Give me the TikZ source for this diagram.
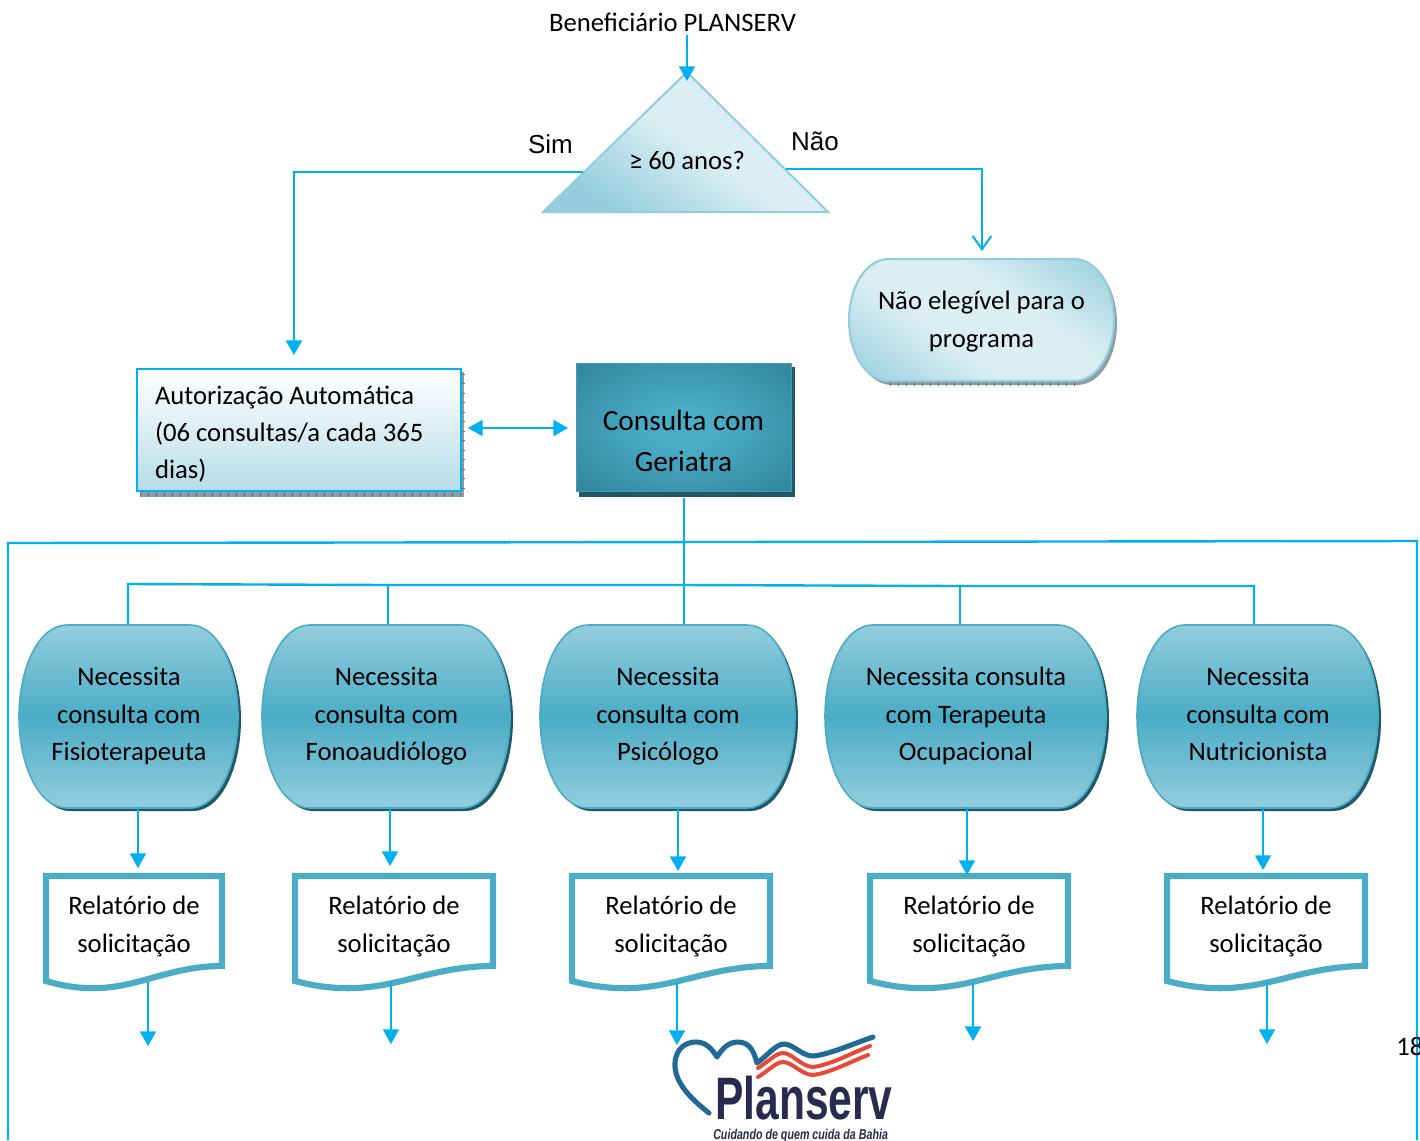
\documentclass[tikz,border=0pt]{standalone}
\usepackage{fontspec}
\usepackage{graphicx}
\setmainfont{Carlito}
\newfontfamily\liberation{Liberation Sans}
\newfontfamily\logofont{Liberation Sans}
\usetikzlibrary{arrows.meta,calc,backgrounds}
\definecolor{linkc}{HTML}{00B0F0}
\definecolor{teal}{HTML}{4BACC6}
\definecolor{tealdark}{HTML}{31849B}
\definecolor{tealshadow}{HTML}{215868}
\definecolor{teallight}{HTML}{93CDDD}
\definecolor{paleblue}{HTML}{DAEEF3}
\definecolor{midblue}{HTML}{B7DDE8}
\definecolor{hatch}{HTML}{8E9DA1}
\definecolor{logoblue}{HTML}{1F6A96}
\definecolor{logored}{HTML}{E8483A}
\definecolor{logoink}{HTML}{2A2A4E}
\pgfdeclareradialshading{gerishade}{\pgfpoint{0bp}{0bp}}{color(0bp)=(teal); color(8bp)=(teal); color(36bp)=(tealdark); color(50bp)=(tealdark)}
\pgfdeclareverticalshading{paleband}{100bp}{color(0bp)=(teallight); color(14bp)=(teallight); color(40bp)=(paleblue); color(60bp)=(paleblue); color(86bp)=(teallight); color(100bp)=(teallight)}
\tikzset{
  body/.style={inner sep=0pt,align=center,font=\fontsize{20}{28.1}\selectfont,text=black},
  link/.style={draw=linkc,line width=1.9pt,-{Triangle[length=11pt,width=12pt]}},
  thinlink/.style={draw=linkc,line width=1.4pt,-{Triangle[length=11pt,width=12pt]}},
  plainlink/.style={draw=linkc,line width=1.8pt},
  openlink/.style={draw=linkc,line width=1.5pt,-{Straight Barb[length=10pt,width=14pt]}},
  bothlink/.style={draw=linkc,line width=1.6pt,{Triangle[length=11pt,width=12pt]}-{Triangle[length=11pt,width=12pt]}},
  docbox/.style={draw=teal,line width=4.6pt,fill=white,miter limit=10},
  hatchline/.style={draw=hatch!70!black,line width=3pt,dash pattern=on .6pt off 5.4pt},
}
% rounded-side outline: x1,y1,x2,y2,side-radius
\newcommand{\roundedsides}[5]{
  (#1+#5,#2) -- (#3-#5,#2)
  .. controls (#3-#5*0.4,#2) and (#3,#2+0.24*#4-0.24*#2) .. (#3,#2*0.5+#4*0.5)
  .. controls (#3,#4-0.24*#4+0.24*#2) and (#3-#5*0.4,#4) .. (#3-#5,#4)
  -- (#1+#5,#4)
  .. controls (#1+#5*0.4,#4) and (#1,#4-0.24*#4+0.24*#2) .. (#1,#2*0.5+#4*0.5)
  .. controls (#1,#2+0.24*#4-0.24*#2) and (#1+#5*0.4,#2) .. (#1+#5,#2) -- cycle
}
% need-shape: name,x1,x2,text
\newcommand{\needshape}[4]{
  \fill[tealshadow] \roundedsides{#2+3}{628}{#3+3}{811}{48};
  \shade[top color=teallight,bottom color=teallight,middle color=teal,draw=teal,line width=1.2pt] \roundedsides{#2}{625}{#3}{808}{48};
  \node[body,minimum width=(#3-#2)*0.75pt,minimum height=137pt] (#1) at ({(#2+#3)/2+0.5},715.5) {\strut#4\strut};
}
% document: name,x1,x2
\newcommand{\docshape}[3]{
  \draw[docbox] (#2+2,876) -- (#3-2,876) -- (#3-2,966)
    .. controls (#2+0.78*#3-0.78*#2,966) and (#2+0.62*#3-0.62*#2,978) .. (#2+0.47*#3-0.47*#2,984)
    .. controls (#2+0.32*#3-0.32*#2,990) and (#2+0.18*#3-0.18*#2,990) .. (#2+2,981) -- cycle;
  \node[body,minimum width=(#3-#2)*0.75pt,minimum height=84pt] (#1) at ({(#2+#3)/2},926) {\strut Relatório de\\solicitação\strut};
}
\begin{document}
\begin{tikzpicture}[x=0.75pt,y=-0.75pt]
\useasboundingbox (0,0) rectangle (1420,1140);

% title and decision
\node[body] (start) at (672.5,22) {Beneficiário PLANSERV};
\shade[bottom color=teallight,top color=paleblue,middle color=paleblue,shading angle=-35,draw=teallight,line width=1.5pt] (687,72) -- (828,212) -- (543,212) -- cycle;
\node[body] (q) at (687,160) {≥ 60 anos?};
\node[inner sep=0pt,font=\liberation\fontsize{19.5}{23}\selectfont] (sim) at (550.5,144) {Sim};
\node[inner sep=0pt,font=\liberation\fontsize{19.5}{23}\selectfont] (nao) at (815,141) {Não};

% not eligible
\fill[hatch] \roundedsides{852}{262}{1117}{385}{40};
\draw[hatchline] (890,384) -- (1078,384);
\shade[shading=paleband,shading angle=-35,draw=teallight,line width=1.6pt] \roundedsides{849}{259}{1114}{381}{40};
\node[body,minimum width=199pt,minimum height=91.5pt] (noelig) at (981.5,321) {\strut Não elegível para o\\programa\strut};

% automatic authorisation
\fill[hatch] (140,372) rectangle (464,497);
\draw[hatchline] (140,495) -- (464,495);
\draw[hatchline,dash pattern=on .6pt off 6.5pt] (462.5,374) -- (462.5,497);
\shade[top color=white,bottom color=midblue,draw=linkc,line width=2pt] (137,369) rectangle (461,491);
\node[body,align=flush left,text width=216pt] (auto) at (299,434) {\strut Autorização Automática\\(06 consultas/a cada 365\\dias)\strut};

% geriatrician
\fill[tealshadow] (579,367) rectangle (795,497);
\shade[shading=gerishade,draw=teal!60!tealdark,line width=.5pt] (576,363) rectangle (791,491);
\node[body,font=\fontsize{22}{30.8}\selectfont,minimum width=161pt,minimum height=83pt] (geri) at (683.5,442.5) {\strut Consulta com\\Geriatra\strut};

% needs
\needshape{n1}{19}{238}{Necessita\\consulta com\\Fisioterapeuta}
\needshape{n2}{262}{510}{Necessita\\consulta com\\Fonoaudiólogo}
\needshape{n3}{540}{795}{Necessita\\consulta com\\Psicólogo}
\needshape{n4}{825}{1106}{Necessita consulta\\com Terapeuta\\Ocupacional}
\needshape{n5}{1137}{1378}{Necessita\\consulta com\\Nutricionista}

% documents
\docshape{d1}{44}{224}
\docshape{d2}{293}{495}
\docshape{d3}{570}{772}
\docshape{d4}{868}{1070}
\docshape{d5}{1165}{1367}

% named free ends
\coordinate (leftcorner) at (294,172);
\coordinate (autotop) at (294,355);
\coordinate (rightcorner) at (982,169);
\coordinate (noeligtop) at (982,251);
\coordinate (bothL) at (468,428);
\coordinate (bothR) at (568,428);
\coordinate (frameTL) at (8,543);
\coordinate (frameTR) at (1417,541);
\coordinate (frameBL) at (8,1140);
\coordinate (frameBR) at (1417,1140);
\coordinate (busL) at (128,584);
\coordinate (busR) at (1254,586);
\coordinate (tap2) at (388,585);
\coordinate (tap3) at (684,585);
\coordinate (tap4) at (960,586);
\coordinate (in1) at (138,868);
\coordinate (in2) at (390,866);
\coordinate (in3) at (678,871);
\coordinate (in4) at (967,875);
\coordinate (in5) at (1263,870);
\coordinate (out1) at (148,1046);
\coordinate (out2) at (391,1044);
\coordinate (out3) at (677,1045);
\coordinate (out4) at (973,1041);
\coordinate (out5) at (1267,1044);

% connectors
\draw[thinlink] ($(start.south -| q)+(0,3)$) -- ($(q)+(0,-79)$);
\draw[link] ($(q)+(-104,12)$) -- (leftcorner) -- (autotop);
\draw[openlink] ($(q)+(99,9)$) -- (rightcorner) -- (noeligtop);
\draw[bothlink] (bothL) -- (bothR);
\begin{scope}[on background layer]
  \draw[plainlink] (frameBL) -- (frameTL) -- (frameTR) -- (frameBR);
  \draw[plainlink] (n1.north -| busL) -- (busL) -- (tap2) -- (tap3) -- (tap4) -- (busR) -- (n5.north -| busR);
  \draw[plainlink] (geri.south -| tap3) -- (n3.north -| tap3);
  \draw[plainlink] (tap2) -- (n2.north -| tap2);
  \draw[plainlink] (tap4) -- (n4.north -| tap4);
\end{scope}
\foreach \i in {1,...,5}{
  \draw[thinlink] (n\i.south -| in\i) -- (in\i);
  \draw[thinlink] (d\i.south -| out\i) -- (out\i);
}

% page number
\node[inner sep=0pt,anchor=west,font=\fontsize{20}{24}\selectfont] (page) at (1396,1046) {18};

% logo
\draw[logoblue,line width=3.8pt,line cap=round,line join=round] (709,1113) .. controls (690,1098) and (674,1082) .. (675,1063) .. controls (676,1048) and (686,1042) .. (696,1042) .. controls (706,1042) and (712,1049) .. (717,1057) .. controls (722,1049) and (728,1042) .. (738,1042) .. controls (750,1042) and (754,1052) .. (757,1063) .. controls (768,1055) and (776,1044) .. (784,1044) .. controls (793,1044) and (802,1056) .. (813,1056) .. controls (828,1055) and (855,1043) .. (873,1037);
\draw[logored,line width=3pt,line cap=round] (758,1068) .. controls (768,1062) and (776,1053) .. (783,1053) .. controls (792,1053) and (802,1067) .. (813,1067) .. controls (830,1065) and (852,1053) .. (870,1046);
\draw[logored,line width=3pt,line cap=round] (758,1077) .. controls (768,1071) and (776,1062) .. (783,1062) .. controls (792,1062) and (802,1075) .. (813,1075) .. controls (830,1073) and (852,1061) .. (868,1055);
\node[inner sep=0pt,anchor=south west,text=logoink] (logo) at (715,1120.5) {\resizebox*{133pt}{33pt}{\logofont\bfseries Planserv}};
\node[inner sep=0pt,anchor=base west,text=logoink] (tagline) at (713,1139.5) {\resizebox*{131pt}{10pt}{\logofont\bfseries\itshape Cuidando de quem cuida da Bahia}};
\end{tikzpicture}
\end{document}
